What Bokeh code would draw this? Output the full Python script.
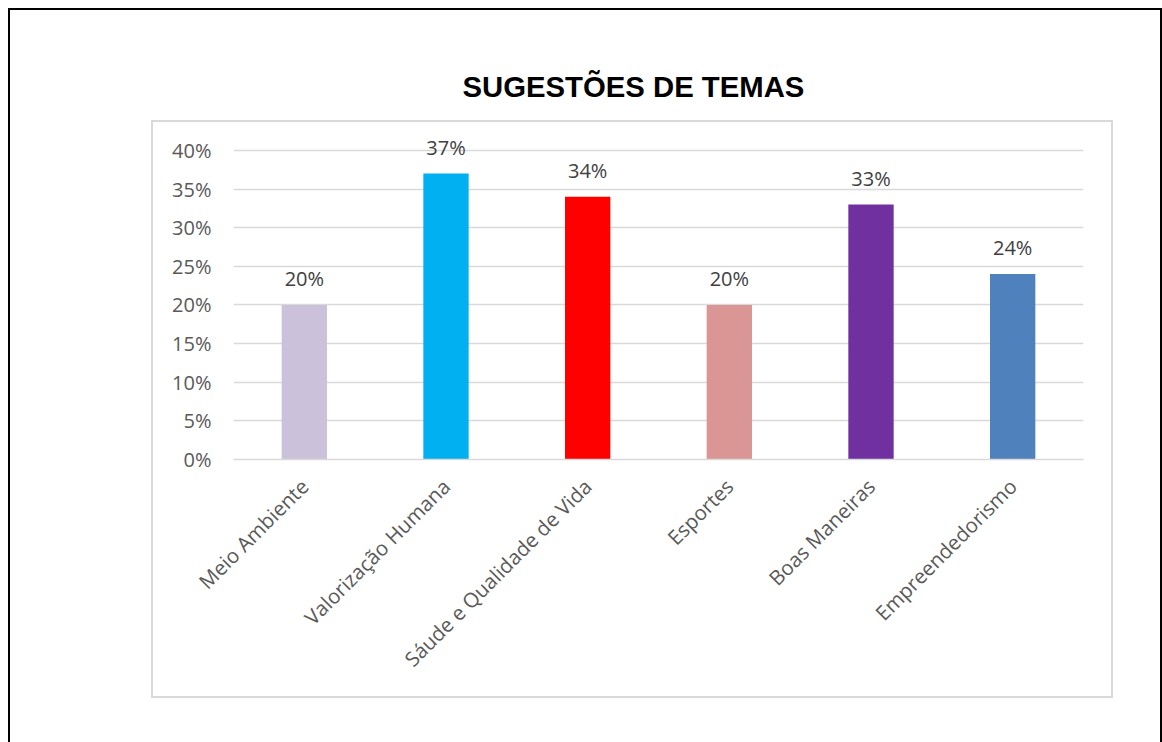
from math import pi
from bokeh.plotting import figure
from bokeh.models import (ColumnDataSource, FactorRange, Range1d, NumeralTickFormatter,
                          FixedTicker, LabelSet, InlineStyleSheet)
from bokeh.core.properties import value
from bokeh.embed import file_html
from bokeh.resources import INLINE

# ---- data ----
categories = ["Meio Ambiente", "Valorização Humana", "Sáude e Qualidade de Vida",
              "Esportes", "Boas Maneiras", "Empreendedorismo"]
values_pct = [20, 37, 34, 20, 33, 24]
y_ticks = [0, 0.05, 0.10, 0.15, 0.20, 0.25, 0.30, 0.35, 0.40]
title_text = "SUGESTÕES DE TEMAS"

# ---- styles ----
bar_colors = ["#CCC1DA", "#00B0F0", "#FF0000", "#D99694", "#7030A0", "#4F81BD"]
FONT = "Open Sans"
GRID = "#D9D9D9"

src = ColumnDataSource(dict(
    cat=categories,
    val=[v / 100 for v in values_pct],
    lbl=[f"{v}%" for v in values_pct],
    color=bar_colors,
))

frame_css = InlineStyleSheet(css="""
:host::before {
  content: ""; position: absolute; left: 8px; top: 8px;
  width: 1154px; height: calc(100% - 8px); box-sizing: border-box;
  border: 2px solid #000; border-bottom: none;
  z-index: 100; pointer-events: none;
}
:host::after {
  content: ""; position: absolute; left: 151px; top: 120px;
  width: 962px; height: 578px; box-sizing: border-box;
  border: 2px solid #D9D9D9;
  z-index: 100; pointer-events: none;
}
""")

p = figure(width=1162, height=742, output_backend="svg", toolbar_location=None,
           x_range=FactorRange(*categories, range_padding=0),
           y_range=Range1d(0, 0.44),
           min_border_left=233, min_border_right=79,
           min_border_top=119, min_border_bottom=283,
           background_fill_color="white", border_fill_color="white",
           stylesheets=[frame_css])
p.outline_line_color = None

p.title.text = title_text
p.title.text_font = "Liberation Sans"
p.title.text_font_style = "bold"
p.title.text_font_size = "29.3px"
p.title.text_color = "black"
p.title.align = "left"
p.title.offset = 229
p.title.standoff = 34

p.vbar(x="cat", top="val", width=0.32, color="color", line_color=None, source=src)

labels = LabelSet(x="cat", y="val", text="lbl", source=src, y_offset=13,
                  text_align="center", text_baseline="bottom",
                  text_font=value(FONT), text_font_size=value("20px"),
                  text_color="#404040")
p.add_layout(labels)

# y axis
p.yaxis.ticker = FixedTicker(ticks=y_ticks)
p.yaxis.formatter = NumeralTickFormatter(format="0%")
p.yaxis.axis_line_color = None
p.yaxis.major_tick_line_color = None
p.yaxis.minor_tick_line_color = None
p.yaxis.major_tick_out = 0
p.yaxis.major_label_standoff = 22
p.yaxis.major_label_text_font = FONT
p.yaxis.major_label_text_font_size = "20px"
p.yaxis.major_label_text_color = "#595959"

# x axis
p.xaxis.axis_line_color = GRID
p.xaxis.axis_line_width = 1.5
p.xaxis.major_tick_line_color = None
p.xaxis.minor_tick_line_color = None
p.xaxis.major_tick_out = 0
p.xaxis.major_label_orientation = pi / 4
p.xaxis.major_label_standoff = 23
p.xaxis.major_label_text_font = FONT
p.xaxis.major_label_text_font_size = "20.4px"
p.xaxis.major_label_text_color = "#595959"

p.xgrid.grid_line_color = None
p.ygrid.grid_line_color = GRID
p.ygrid.grid_line_width = 1.5

open("out.html", "w").write(file_html(p, INLINE))
